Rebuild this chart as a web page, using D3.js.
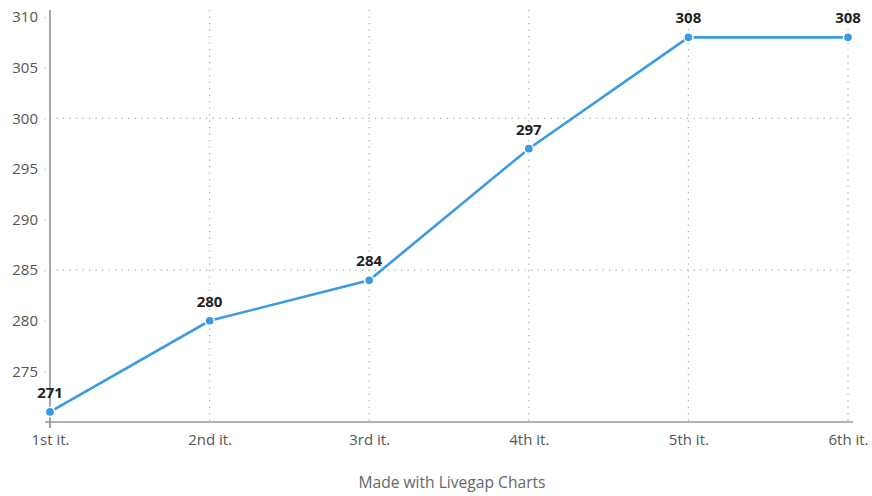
<!DOCTYPE html>
<html>
<head>
<meta charset="utf-8">
<script src="https://cdn.jsdelivr.net/npm/d3@7"></script>
<style>
  html, body { margin: 0; padding: 0; background: #fff; }
  svg text { font-family: "Open Sans", "Noto Sans", sans-serif; }
</style>
</head>
<body>
<svg id="chart" width="872" height="496"></svg>
<script>
// Iteration results
const categories = ["1st it.", "2nd it.", "3rd it.", "4th it.", "5th it.", "6th it."];
const values = [271, 280, 284, 297, 308, 308];
const yTicks = [275, 280, 285, 290, 295, 300, 305, 310];
const yGrid = [285, 300];
const footer = "Made with Livegap Charts";

const svg = d3.select("#chart");
const plot = { left: 50, right: 848, top: 10, bottom: 422 };

const x = d3.scalePoint().domain(categories).range([plot.left, plot.right]);
const y = d3.scaleLinear().domain([270, 310.7]).range([plot.bottom, plot.top]);

// dotted vertical grid at each category
svg.append("g").selectAll("line").data(categories.slice(1)).join("line")
  .attr("x1", d => x(d)).attr("x2", d => x(d))
  .attr("y1", plot.top).attr("y2", plot.bottom)
  .attr("stroke", "#aaa").attr("stroke-width", 1.2)
  .attr("stroke-dasharray", "1.2,5.3");

// dotted horizontal grid
svg.append("g").selectAll("line").data(yGrid).join("line")
  .attr("x1", plot.left).attr("x2", plot.right + 4)
  .attr("y1", d => y(d)).attr("y2", d => y(d))
  .attr("stroke", "#aaa").attr("stroke-width", 1.2)
  .attr("stroke-dasharray", "1.2,5.3");

// y axis
const yAxis = svg.append("g").attr("transform", `translate(${plot.left},0)`)
  .call(d3.axisLeft(y).tickValues(yTicks).tickSize(2).tickPadding(6));
yAxis.select(".domain").attr("d", `M0,${plot.top}V${plot.bottom}`).attr("stroke", "#777").attr("stroke-width", 1.3);
yAxis.selectAll(".tick line").attr("stroke", "#bbb").attr("x1", -6).attr("x2", -4.5);
yAxis.selectAll(".tick text").attr("fill", "#555").attr("font-size", 15)
  .attr("x", -12);

// x axis
const xAxis = svg.append("g").attr("transform", `translate(0,${plot.bottom})`)
  .call(d3.axisBottom(x).tickSize(0).tickPadding(12));
xAxis.select(".domain").attr("d", `M${plot.left - 5},0H${plot.right + 5}`).attr("stroke", "#999").attr("stroke-width", 1.6);
xAxis.selectAll(".tick text").attr("fill", "#555").attr("font-size", 15);
// small tick under the first category
xAxis.append("line").attr("x1", x(categories[0])).attr("x2", x(categories[0]))
  .attr("y1", 0).attr("y2", 6).attr("stroke", "#777").attr("stroke-width", 1.3);

// series line
const pts = categories.map((c, i) => [x(c), y(values[i])]);
svg.append("path").datum(pts)
  .attr("d", d3.line())
  .attr("fill", "none").attr("stroke", "#3b9be0").attr("stroke-width", 2.6);

svg.append("g").selectAll("circle").data(pts).join("circle")
  .attr("cx", d => d[0]).attr("cy", d => d[1]).attr("r", 4.6)
  .attr("fill", "#3b9be0").attr("stroke", "#fff").attr("stroke-width", 1.5);

// value labels
svg.append("g").selectAll("text").data(values).join("text")
  .attr("x", (d, i) => x(categories[i]))
  .attr("y", d => y(d) - 14)
  .attr("text-anchor", "middle")
  .attr("font-size", 15).attr("font-weight", "bold").attr("fill", "#222")
  .text(d => d);

// footer
svg.append("text").attr("x", 452).attr("y", 488)
  .attr("text-anchor", "middle").attr("font-size", 15.6).attr("fill", "#666")
  .text(footer);
</script>
</body>
</html>
